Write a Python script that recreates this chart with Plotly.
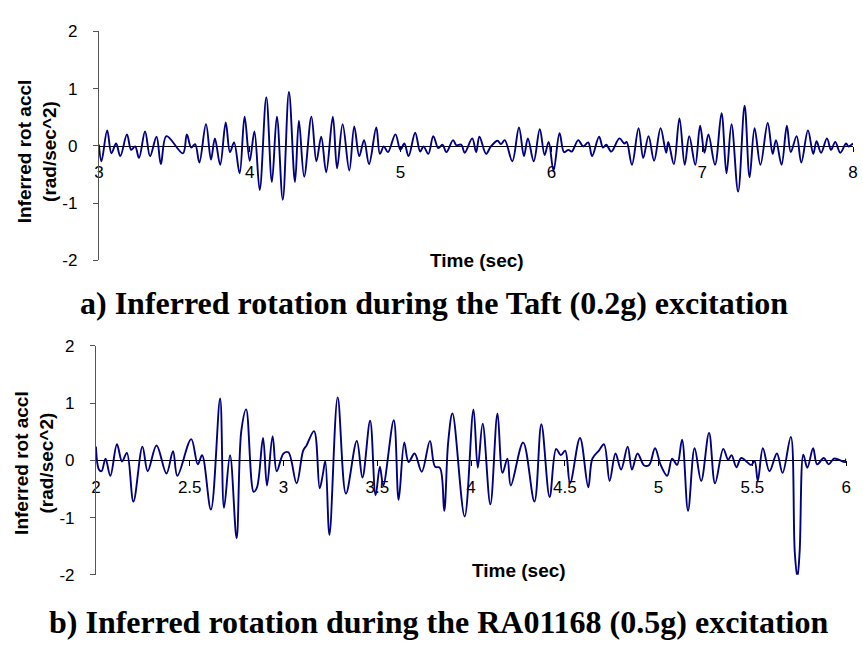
import plotly.graph_objects as go

# ---- Data ----
taft_t = [3.000, 3.017, 3.055, 3.083, 3.114, 3.142, 3.186, 3.214, 3.240, 3.266, 3.306, 3.339, 3.382, 3.411, 3.448,
          3.557, 3.583, 3.612, 3.638, 3.666, 3.710, 3.743, 3.769, 3.804, 3.841, 3.869, 3.896, 3.933, 3.966, 4.000,
          4.031, 4.066, 4.110, 4.147, 4.180, 4.219,
          4.260, 4.300, 4.326, 4.361, 4.409, 4.442, 4.474, 4.507, 4.551, 4.579, 4.616, 4.660, 4.693, 4.726, 4.758,
          4.791, 4.839, 4.863, 4.889, 4.916, 4.966, 4.999, 5.025, 5.053, 5.097, 5.130, 5.152, 5.184, 5.217, 5.250,
          5.278, 5.304, 5.348, 5.370, 5.403, 5.425, 5.475, 5.501,
          5.523, 5.567, 5.599, 5.643, 5.665, 5.691, 5.741, 5.785, 5.818, 5.844, 5.883, 5.923, 5.955, 5.982, 6.014,
          6.054, 6.084, 6.113, 6.135, 6.178, 6.211, 6.244, 6.270, 6.316, 6.342, 6.364, 6.397, 6.451, 6.484, 6.499,
          6.534, 6.578, 6.609, 6.644, 6.681, 6.724, 6.761,
          6.775, 6.812, 6.849, 6.884, 6.914, 6.954, 6.986, 7.015, 7.041, 7.085, 7.128, 7.161, 7.194, 7.238, 7.281,
          7.314, 7.347, 7.386, 7.434, 7.467, 7.489, 7.526, 7.561, 7.587, 7.626, 7.657, 7.701, 7.736, 7.758, 7.788,
          7.827, 7.854, 7.882, 7.915, 7.954, 7.969, 8.000]
taft_v = [0.02, -0.27, 0.27, -0.13, 0.04, -0.18, 0.20, -0.07, -0.01, -0.21, 0.25, -0.18, 0.16, -0.32, 0.17,
          -0.13, 0.20, -0.03, 0.03, -0.29, 0.38, -0.24, 0.13, -0.33, 0.41, -0.11, 0.06, -0.48, 0.51, -0.26,
          0.25, -0.77, 0.85, -0.63, 0.51, -0.94,
          0.94, -0.63, 0.44, -0.54, 0.51, -0.27, 0.16, -0.46, 0.51, -0.39, 0.38, -0.43, 0.34, -0.18, 0.10,
          -0.32, 0.32, -0.14, -0.01, -0.11, 0.20, -0.07, 0.04, -0.18, 0.23, -0.10, -0.01, -0.14, 0.17, -0.04,
          0.02, -0.11, 0.10, 0.01, 0.02, -0.12, 0.13, -0.11,
          0.16, -0.14, -0.01, 0.09, 0.03, 0.10, -0.27, 0.32, -0.18, 0.13, -0.27, 0.29, -0.16, 0.07, -0.43,
          0.22, -0.11, -0.07, -0.10, 0.10, -0.01, 0.06, -0.18, 0.16, -0.03, 0.02, -0.10, 0.13, 0.04, 0.07,
          -0.33, 0.31, -0.21, 0.17, -0.26, 0.31, -0.12,
          0.07, -0.32, 0.48, -0.33, 0.17, -0.33, 0.35, -0.12, 0.20, -0.33, 0.57, -0.48, 0.38, -0.80, 0.70,
          -0.55, 0.31, -0.33, 0.40, -0.14, 0.10, -0.33, 0.35, -0.11, 0.17, -0.29, 0.27, -0.14, 0.08, -0.12,
          0.13, -0.07, 0.07, -0.12, 0.04, -0.01, 0.04]

ra_t = [2.000, 2.016, 2.030, 2.051, 2.077, 2.112, 2.139, 2.165, 2.200, 2.248, 2.276, 2.323, 2.376, 2.411, 2.434,
        2.508, 2.543, 2.566, 2.613, 2.662, 2.683, 2.715, 2.750, 2.775, 2.801, 2.841, 2.859, 2.891, 2.912, 2.942,
        2.964, 3.000,
        3.026, 3.070, 3.105, 3.123, 3.163, 3.193, 3.210, 3.223, 3.245, 3.289, 3.333, 3.391, 3.421, 3.462, 3.491,
        3.514, 3.532, 3.588, 3.614, 3.644, 3.667, 3.699, 3.737, 3.781, 3.808, 3.834, 3.857, 3.878, 3.901, 3.966,
        4.013,
        4.036, 4.062, 4.103, 4.141, 4.168, 4.194, 4.212, 4.278, 4.338, 4.375, 4.419, 4.454, 4.479, 4.502, 4.528,
        4.581, 4.625, 4.647, 4.682, 4.709, 4.739, 4.770, 4.800, 4.835, 4.858, 4.888, 4.923, 4.950, 4.981, 5.011,
        5.046,
        5.072, 5.099, 5.125, 5.157, 5.192, 5.227, 5.269, 5.301, 5.345, 5.371, 5.389, 5.415, 5.441, 5.494, 5.512,
        5.529, 5.556, 5.591, 5.631, 5.661, 5.705, 5.726, 5.740, 5.752, 5.772, 5.793, 5.824, 5.845, 5.881, 5.907,
        5.935, 5.961, 5.995, 6.000]
ra_v = [0.24, -0.16, -0.19, 0.03, -0.27, 0.28, -0.02, 0.13, -0.72, 0.24, -0.19, 0.26, -0.23, 0.16, -0.27,
        0.37, -0.07, 0.09, -0.86, 1.08, -0.83, 0.09, -1.36, 0.51, 0.89, -0.55, -0.47, 0.39, -0.44, 0.42,
        -0.19, 0.12,
        0.14, -0.40, 0.17, 0.26, 0.51, -0.49, -0.24, -0.01, -1.30, 1.10, -0.58, 0.34, -0.30, 0.69, -0.61,
        -0.11, -0.44, 0.70, -0.69, 0.31, -0.03, 0.12, -0.20, 0.34, -0.11, -0.13, -0.88, 0.31, 0.82, -0.98,
        0.89,
        -0.13, 0.64, -0.77, 0.82, -0.22, 0.03, -0.44, 0.31, -0.72, 0.63, -0.64, 0.20, 0.09, 0.17, -0.40,
        0.39, -0.47, 0.03, 0.17, 0.28, -0.36, 0.12, -0.16, 0.24, -0.16, 0.12, -0.09, -0.08, 0.21, -0.08,
        -0.27,
        0.03, -0.08, 0.36, -0.88, 0.21, -0.36, 0.48, -0.40, 0.20, 0.01, 0.09, -0.12, 0.04, -0.08, -0.01,
        -0.36, 0.21, -0.19, 0.12, -0.22, 0.41, -1.60, -2.05, -1.60, 0.10, -0.13, 0.21, -0.07, 0.04, -0.07,
        0.03, 0.01, -0.03, 0.03]

top_xticks = [3, 4, 5, 6, 7, 8]
bot_xticks = [2, 2.5, 3, 3.5, 4, 4.5, 5, 5.5, 6]
y_ticks = [-2, -1, 0, 1, 2]
y_ticktext = ["-2", "-1", "0", "1", "2"]

title_a = "a) Inferred rotation during the Taft (0.2g) excitation"
title_b = "b) Inferred rotation during the RA01168 (0.5g) excitation"
y_title = "Inferred rot accl<br>(rad/sec^2)"
x_title = "Time (sec)"

# ---- Layout geometry ----
W, H = 863, 646
def px(x):
    return x / W
def py(y):
    return 1 - y / H

top_dom_x = [px(95), px(858)]
top_dom_y = [py(259), py(23)]
bot_dom_x = [px(92), px(851)]
bot_dom_y = [py(583), py(347)]

line_color = "#000080"
tick_font = dict(family="Arial, Liberation Sans, sans-serif", size=17, color="black")

fig = go.Figure()
fig.add_trace(go.Scatter(x=taft_t, y=taft_v, mode="lines", xaxis="x", yaxis="y",
                         line=dict(color=line_color, width=1.9, shape="spline", smoothing=1.0),
                         showlegend=False, hoverinfo="skip"))
fig.add_trace(go.Scatter(x=ra_t, y=ra_v, mode="lines", xaxis="x2", yaxis="y2",
                         line=dict(color=line_color, width=1.9, shape="spline", smoothing=1.0),
                         showlegend=False, hoverinfo="skip"))

xcommon = dict(showgrid=False, zeroline=False, showline=True, linecolor="black", linewidth=1,
               ticks="outside", ticklen=5, tickcolor="black", tickfont=tick_font,
               ticklabelstandoff=6, anchor="free", layer="below traces")
ycommon = dict(showgrid=False, zeroline=False, showline=True, linecolor="#555555", linewidth=1,
               ticks="outside", ticklen=5, tickcolor="#555555", tickfont=tick_font,
               range=[-2, 2], tickvals=y_ticks, ticktext=y_ticktext, ticklabelstandoff=12)

fig.update_layout(
    width=W, height=H,
    margin=dict(l=0, r=0, t=0, b=0),
    paper_bgcolor="white", plot_bgcolor="white",
    xaxis=dict(xcommon, domain=top_dom_x, range=[3, 8], tickvals=top_xticks,
               position=(top_dom_y[0] + top_dom_y[1]) / 2),
    yaxis=dict(ycommon, domain=top_dom_y, anchor="x"),
    xaxis2=dict(xcommon, domain=bot_dom_x, range=[2, 6], tickvals=bot_xticks,
                position=(bot_dom_y[0] + bot_dom_y[1]) / 2),
    yaxis2=dict(ycommon, domain=bot_dom_y, anchor="x2"),
)

ann_font = dict(family="Arial, Liberation Sans, sans-serif", size=19, color="black")
title_font = dict(family="Times New Roman, Liberation Serif, serif", size=32, color="black")
annotations = [
    dict(text="<b>" + y_title + "</b>", x=px(32), y=py(147), textangle=-90, font=ann_font),
    dict(text="<b>" + y_title + "</b>", x=px(30), y=py(468), textangle=-90, font=ann_font),
    dict(text="<b>" + x_title + "</b>", x=px(478), y=py(259), font=dict(ann_font, size=19)),
    dict(text="<b>" + x_title + "</b>", x=px(520), y=py(578), font=dict(ann_font, size=19)),
    dict(text="<b>" + title_a + "</b>", x=px(434), y=py(303), font=title_font),
    dict(text="<b>" + title_b + "</b>", x=px(439), y=py(632), font=title_font),
]
for a in annotations:
    a.update(xref="paper", yref="paper", showarrow=False, xanchor="center", yanchor="middle")
fig.update_layout(annotations=annotations)

fig.write_html("out.html")
